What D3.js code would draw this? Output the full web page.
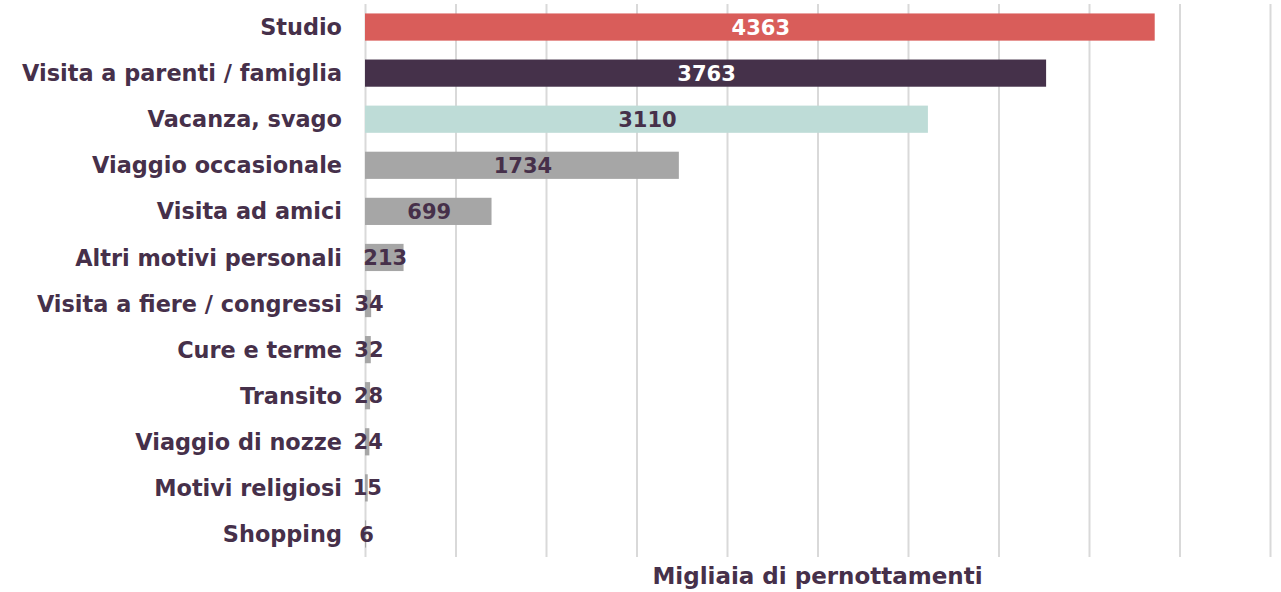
<!DOCTYPE html>
<html>
<head>
<meta charset="utf-8">
<script src="https://cdn.jsdelivr.net/npm/d3@7"></script>
<style>
  body { margin: 0; background: #fff; }
  svg { display: block; }
</style>
</head>
<body>
<script>
const w = 1281;
const h = 592;

// data
const categories = [
  "Studio",
  "Visita a parenti / famiglia",
  "Vacanza, svago",
  "Viaggio occasionale",
  "Visita ad amici",
  "Altri motivi personali",
  "Visita a fiere / congressi",
  "Cure e terme",
  "Transito",
  "Viaggio di nozze",
  "Motivi religiosi",
  "Shopping"
];
const values = [4363, 3763, 3110, 1734, 699, 213, 34, 32, 28, 24, 15, 6];
const barColors = ["#d95d5a", "#45314a", "#bedcd7", "#a6a6a6", "#a6a6a6", "#a6a6a6",
  "#a6a6a6", "#a6a6a6", "#a6a6a6", "#a6a6a6", "#a6a6a6", "#a6a6a6"];
const labelColors = ["#ffffff", "#ffffff", "#46304a", "#46304a", "#46304a", "#46304a",
  "#46304a", "#46304a", "#46304a", "#46304a", "#46304a", "#46304a"];
const gridTicks = d3.range(0, 5001, 500);
const axisTitle = "Migliaia di pernottamenti";

const rows = categories.map((c, i) => ({
  name: c, value: values[i], color: barColors[i], label: labelColors[i]
}));

const textColor = "#46304a";
const font = "'DejaVu Sans', sans-serif";

const x = d3.scaleLinear().domain([0, 5000]).range([365, 1270]);
const y = d3.scaleBand().domain(categories).range([4, 557])
  .paddingInner(0.41).paddingOuter(0.205);

const svg = d3.select("body").append("svg")
  .attr("width", w)
  .attr("height", h);

// vertical gridlines
const grid = svg.append("g")
  .attr("transform", "translate(0,557)")
  .call(d3.axisBottom(x).tickValues(gridTicks).tickSize(-553).tickFormat(""));
grid.select(".domain").remove();
grid.selectAll(".tick line")
  .attr("stroke", "#d9d9d9")
  .attr("stroke-width", 2);

// bars
svg.append("g")
  .selectAll("rect")
  .data(rows)
  .enter()
  .append("rect")
  .attr("x", x(0))
  .attr("y", d => y(d.name))
  .attr("width", d => x(d.value) - x(0))
  .attr("height", y.bandwidth())
  .attr("fill", d => d.color);

// category labels
svg.append("g")
  .selectAll("text")
  .data(rows)
  .enter()
  .append("text")
  .attr("x", 342)
  .attr("y", d => y(d.name) + y.bandwidth() / 2)
  .attr("dy", "0.36em")
  .attr("text-anchor", "end")
  .attr("font-family", font)
  .attr("font-weight", "bold")
  .attr("font-size", 22.4)
  .attr("fill", textColor)
  .text(d => d.name);

// value labels, centred in each bar
svg.append("g")
  .selectAll("text")
  .data(rows)
  .enter()
  .append("text")
  .attr("x", d => (x(0) + x(d.value)) / 2 + 1)
  .attr("y", d => y(d.name) + y.bandwidth() / 2)
  .attr("dy", "0.36em")
  .attr("text-anchor", "middle")
  .attr("font-family", font)
  .attr("font-weight", "bold")
  .attr("font-size", 21)
  .attr("fill", d => d.label)
  .text(d => d.value);

// axis title
svg.append("text")
  .attr("x", (x(0) + x(5000)) / 2)
  .attr("y", 584)
  .attr("text-anchor", "middle")
  .attr("font-family", font)
  .attr("font-weight", "bold")
  .attr("font-size", 23)
  .attr("fill", textColor)
  .text(axisTitle);
</script>
</body>
</html>
